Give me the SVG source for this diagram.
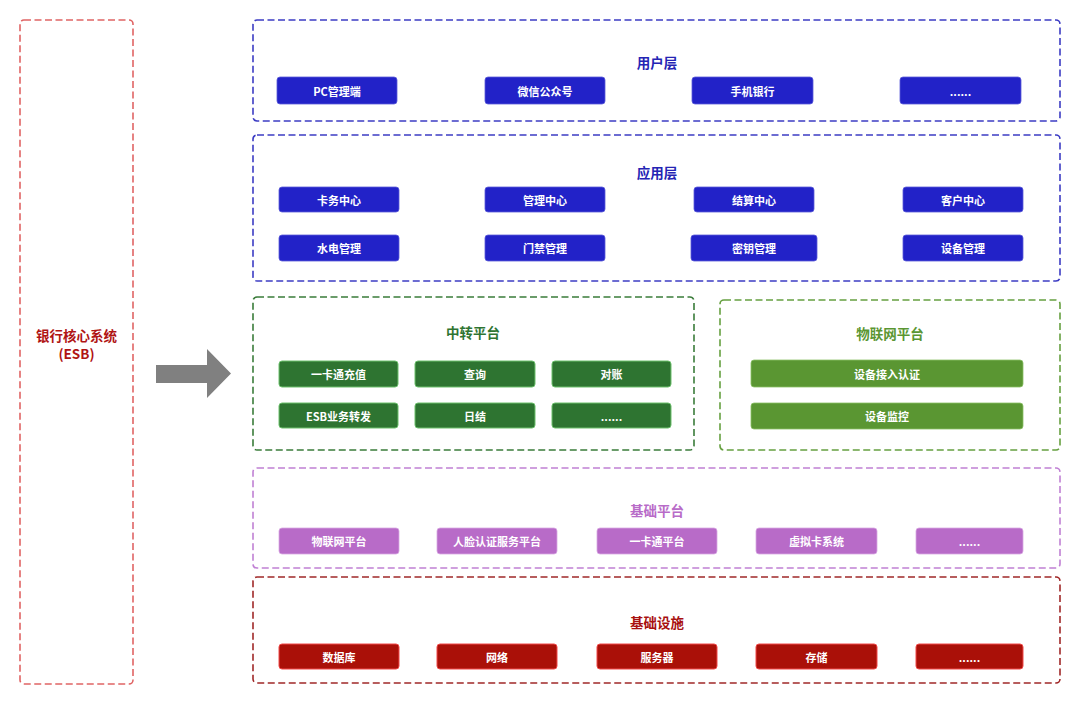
<svg xmlns="http://www.w3.org/2000/svg" width="1080" height="704" viewBox="0 0 1080 704">
<defs>
<style>
text{font-family:"Noto Sans CJK SC","Liberation Sans",sans-serif;font-weight:bold;text-anchor:middle;dominant-baseline:central}
.grp{fill:none;stroke-width:1.6;stroke-dasharray:7 3.5}
.t{font-size:13.5px}
.b{font-size:11px;fill:#fff}
.blue .grp{stroke:#3c3cc4}.blue .t{fill:#2424b4}
.blue rect.n{fill:#2222c8;stroke:#5c5cd8;stroke-width:0.8}
.tg .grp{stroke:#3a7c3a}.tg .t{fill:#2e7431}
.tg rect.n{fill:#2e7431;stroke:#6cc06c;stroke-width:1}
.iot .grp{stroke:#66a040}.iot .t{fill:#5a9632}
.iot rect.n{fill:#5a9632;stroke:#8ac066;stroke-width:0.8}
.fp .grp{stroke:#c080d4}.fp .t{fill:#b86bc8}
.fp rect.n{fill:#b86bc8;stroke:#d8a8e2;stroke-width:0.8}
.inf .grp{stroke:#a02828}.inf .t{fill:#a81010}
.inf rect.n{fill:#aa1008;stroke:#f04848;stroke-width:1}
</style>
</defs>
<g id="esb">
<rect x="20" y="20" width="113" height="664" rx="4" fill="none" stroke="#e06464" stroke-width="1.6" stroke-dasharray="7 3.5"/>
<text x="76.5" y="335" class="t" fill="#b01414">银行核心系统</text>
<text x="76.5" y="353" class="t" fill="#b01414">(ESB)</text>
</g>
<g id="connectors">
<polygon points="156,365 207,365 207,349 231,373.5 207,398 207,383 156,383" fill="#808080"/>
</g>
<g id="user-layer" class="blue">
<rect class="grp" x="253" y="20" width="807" height="101" rx="4"/>
<text class="t" x="657" y="62">用户层</text>
<g id="u1"><rect class="n" x="277" y="77" width="120" height="27" rx="3"/><text class="b" x="337" y="90.5">PC管理端</text></g>
<g id="u2"><rect class="n" x="485" y="77" width="120" height="27" rx="3"/><text class="b" x="545" y="90.5">微信公众号</text></g>
<g id="u3"><rect class="n" x="692" y="77" width="121" height="27" rx="3"/><text class="b" x="752.5" y="90.5">手机银行</text></g>
<g id="u4"><rect class="n" x="900" y="77" width="121" height="27" rx="3"/><text class="b" x="960.5" y="90.5">......</text></g>
</g>
<g id="app-layer" class="blue">
<rect class="grp" x="253" y="135" width="807" height="146" rx="4"/>
<text class="t" x="657" y="172">应用层</text>
<g id="a1"><rect class="n" x="279" y="187" width="120" height="25" rx="3"/><text class="b" x="339" y="199.5">卡务中心</text></g>
<g id="a2"><rect class="n" x="485" y="187" width="120" height="25" rx="3"/><text class="b" x="545" y="199.5">管理中心</text></g>
<g id="a3"><rect class="n" x="694" y="187" width="120" height="25" rx="3"/><text class="b" x="754" y="199.5">结算中心</text></g>
<g id="a4"><rect class="n" x="903" y="187" width="120" height="25" rx="3"/><text class="b" x="963" y="199.5">客户中心</text></g>
<g id="a5"><rect class="n" x="279" y="235" width="120" height="26" rx="3"/><text class="b" x="339" y="248">水电管理</text></g>
<g id="a6"><rect class="n" x="485" y="235" width="120" height="26" rx="3"/><text class="b" x="545" y="248">门禁管理</text></g>
<g id="a7"><rect class="n" x="691" y="235" width="126" height="26" rx="3"/><text class="b" x="754" y="248">密钥管理</text></g>
<g id="a8"><rect class="n" x="903" y="235" width="120" height="26" rx="3"/><text class="b" x="963" y="248">设备管理</text></g>
</g>
<g id="transfer-platform" class="tg">
<rect class="grp" x="253" y="297" width="441" height="153" rx="4"/>
<text class="t" x="473" y="332">中转平台</text>
<g id="t1"><rect class="n" x="279" y="361" width="119" height="26" rx="3"/><text class="b" x="338.5" y="374">一卡通充值</text></g>
<g id="t2"><rect class="n" x="415" y="361" width="120" height="26" rx="3"/><text class="b" x="475" y="374">查询</text></g>
<g id="t3"><rect class="n" x="552" y="361" width="119" height="26" rx="3"/><text class="b" x="611.5" y="374">对账</text></g>
<g id="t4"><rect class="n" x="279" y="403" width="119" height="25" rx="3"/><text class="b" x="338.5" y="415.5">ESB业务转发</text></g>
<g id="t5"><rect class="n" x="415" y="403" width="120" height="25" rx="3"/><text class="b" x="475" y="415.5">日结</text></g>
<g id="t6"><rect class="n" x="552" y="403" width="119" height="25" rx="3"/><text class="b" x="611.5" y="415.5">......</text></g>
</g>
<g id="iot-platform" class="iot">
<rect class="grp" x="720" y="300" width="340" height="150" rx="4"/>
<text class="t" x="890" y="333">物联网平台</text>
<g id="i1"><rect class="n" x="751" y="360" width="272" height="27" rx="3"/><text class="b" x="887" y="373.5">设备接入认证</text></g>
<g id="i2"><rect class="n" x="751" y="403" width="272" height="26" rx="3"/><text class="b" x="887" y="416">设备监控</text></g>
</g>
<g id="foundation-platform" class="fp">
<rect class="grp" x="253" y="468" width="807" height="100" rx="4"/>
<text class="t" x="657" y="510">基础平台</text>
<g id="f1"><rect class="n" x="279" y="528" width="120" height="26" rx="3"/><text class="b" x="339" y="541">物联网平台</text></g>
<g id="f2"><rect class="n" x="437" y="528" width="120" height="26" rx="3"/><text class="b" x="497" y="541">人脸认证服务平台</text></g>
<g id="f3"><rect class="n" x="597" y="528" width="120" height="26" rx="3"/><text class="b" x="657" y="541">一卡通平台</text></g>
<g id="f4"><rect class="n" x="756" y="528" width="121" height="26" rx="3"/><text class="b" x="816.5" y="541">虚拟卡系统</text></g>
<g id="f5"><rect class="n" x="916" y="528" width="107" height="26" rx="3"/><text class="b" x="969.5" y="541">......</text></g>
</g>
<g id="infrastructure" class="inf">
<rect class="grp" x="253" y="577" width="807" height="106" rx="4"/>
<text class="t" x="657" y="622">基础设施</text>
<g id="s1"><rect class="n" x="279" y="644" width="120" height="25" rx="3"/><text class="b" x="339" y="656.5">数据库</text></g>
<g id="s2"><rect class="n" x="437" y="644" width="120" height="25" rx="3"/><text class="b" x="497" y="656.5">网络</text></g>
<g id="s3"><rect class="n" x="597" y="644" width="120" height="25" rx="3"/><text class="b" x="657" y="656.5">服务器</text></g>
<g id="s4"><rect class="n" x="756" y="644" width="121" height="25" rx="3"/><text class="b" x="816.5" y="656.5">存储</text></g>
<g id="s5"><rect class="n" x="916" y="644" width="107" height="25" rx="3"/><text class="b" x="969.5" y="656.5">......</text></g>
</g>
</svg>
